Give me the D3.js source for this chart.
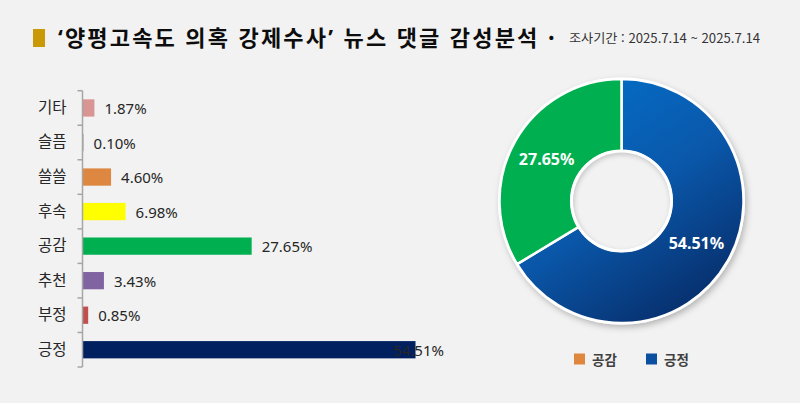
<!DOCTYPE html>
<html lang="ko">
<head>
<meta charset="utf-8">
<script src="https://cdn.jsdelivr.net/npm/d3@7"></script>
<style>
  html, body { margin: 0; padding: 0; background: #F2F2F2; }
  svg { display: block; }
</style>
</head>
<body>
<svg id="chart" width="800" height="403"></svg>
<script>
// Comment sentiment shares (%)
const categories = ["기타", "슬픔", "쓸쓸", "후속", "공감", "추천", "부정", "긍정"];
const shares = [1.87, 0.10, 4.60, 6.98, 27.65, 3.43, 0.85, 54.51];
const barColors = ["#D99594", "#A5A5A5", "#DE8741", "#FFFF00", "#00B050", "#8064A2", "#C0504D", "#002060"];

// Donut: the two leading sentiments, drawn clockwise from 12 o'clock
const donutCategories = ["긍정", "공감"];
const legendItems = ["공감", "긍정"];
const legendColors = ["#E0873E", "#0B4FA0"];

// title pieces: quote marks are set in a Latin face so they stay narrow
const titleParts = ["‘", "양평고속도 의혹 강제수사", "’", " 뉴스 댓글 감성분석 ·"];
const periodText = "조사기간 : 2025.7.14 ~ 2025.7.14";

const svg = d3.select("#chart");
const KR = "'Noto Sans CJK KR', 'Noto Sans', sans-serif";
const NUM = "'Noto Sans', 'Noto Sans CJK KR', sans-serif";

svg.append("rect").attr("width", 800).attr("height", 403).attr("fill", "#F2F2F2");

// ---- Title ----
svg.append("rect").attr("x", 33).attr("y", 29).attr("width", 12).attr("height", 18).attr("fill", "#C99A06");
const title = svg.append("text")
  .attr("x", 58).attr("y", 36)
  .attr("dominant-baseline", "central")
  .attr("font-family", KR).attr("font-weight", 700).attr("font-size", 22)
  .attr("fill", "#0D0D0D")
  .attr("textLength", 497).attr("lengthAdjust", "spacing");
titleParts.forEach((t, i) => {
  title.append("tspan")
    .attr("font-family", i % 2 === 0 ? NUM : KR)
    .text(t);
});
svg.append("text")
  .attr("x", 569).attr("y", 37)
  .attr("dominant-baseline", "central")
  .attr("font-family", KR).attr("font-size", 12.5)
  .attr("fill", "#333")
  .attr("textLength", 191).attr("lengthAdjust", "spacingAndGlyphs")
  .text(periodText);

// ---- Horizontal bar chart ----
const y = d3.scaleBand().domain(categories).range([90.7, 367]).paddingInner(0.5).paddingOuter(0.25);
const x = d3.scaleLinear().domain([0, 60]).range([83, 449]);
const plotRight = 444;

const bars = svg.append("g");
bars.selectAll("rect")
  .data(categories)
  .join("rect")
  .attr("x", x(0))
  .attr("y", d => y(d))
  .attr("width", (d, i) => x(shares[i]) - x(0))
  .attr("height", y.bandwidth())
  .attr("fill", (d, i) => barColors[i]);

const labels = bars.selectAll("text.val")
  .data(categories)
  .join("text")
  .attr("class", "val")
  .attr("y", d => y(d) + y.bandwidth() / 2)
  .attr("dominant-baseline", "central")
  .attr("font-family", NUM).attr("font-size", 15)
  .attr("fill", "#262626")
  .text((d, i) => shares[i].toFixed(2) + "%");
labels.each(function (d, i) {
  const w = this.getComputedTextLength();
  let lx = x(shares[i]) + 10;
  if (lx + w > plotRight) lx = plotRight - w;
  d3.select(this).attr("x", lx);
});

// category axis with boundary ticks
const axis = svg.append("g").attr("transform", `translate(${x(0) - 0.5},0)`);
axis.call(d3.axisLeft(y).tickSize(0).tickPadding(16))
  .call(g => g.select(".domain").remove())
  .call(g => g.selectAll("text")
    .attr("font-family", KR).attr("font-size", 15.5).attr("fill", "#262626"));
const boundaries = d3.range(categories.length + 1).map(i => 90.7 + i * (367 - 90.7) / categories.length);
axis.append("line").attr("x1", 0).attr("x2", 0).attr("y1", boundaries[0]).attr("y2", boundaries[boundaries.length - 1])
  .attr("stroke", "#A6A6A6").attr("stroke-width", 1.5);
axis.selectAll("line.tk").data(boundaries).join("line").attr("class", "tk")
  .attr("x1", -5).attr("x2", 0).attr("y1", d => d).attr("y2", d => d)
  .attr("stroke", "#A6A6A6").attr("stroke-width", 1.5);

// ---- Donut ----
const cx = 621.5, cy = 201, rOuter = 122, rInner = 50;
const defs = svg.append("defs");
// gradient in the donut group's local (centre-origin) coordinates
const blueGrad = defs.append("linearGradient").attr("id", "blueGrad")
  .attr("gradientUnits", "userSpaceOnUse")
  .attr("x1", -40).attr("y1", -110).attr("x2", 100).attr("y2", 100);
blueGrad.append("stop").attr("offset", 0).attr("stop-color", "#046CC4");
blueGrad.append("stop").attr("offset", 0.45).attr("stop-color", "#0A58AB");
blueGrad.append("stop").attr("offset", 1).attr("stop-color", "#072C68");

const shadow = defs.append("filter").attr("id", "shadow").attr("x", "-20%").attr("y", "-20%").attr("width", "140%").attr("height", "140%");
shadow.append("feDropShadow").attr("dx", 2).attr("dy", 3).attr("stdDeviation", 3)
  .attr("flood-color", "#000").attr("flood-opacity", 0.25);
const blur = defs.append("filter").attr("id", "holeBlur");
blur.append("feGaussianBlur").attr("stdDeviation", 2.5);
defs.append("clipPath").attr("id", "holeClip")
  .append("circle").attr("cx", cx).attr("cy", cy).attr("r", rInner - 1.5);

const donutValues = donutCategories.map(c => shares[categories.indexOf(c)]);
const donutFills = ["url(#blueGrad)", "#00B050"];
const pie = d3.pie().sort(null).value(d => d)(donutValues);
const arc = d3.arc().innerRadius(rInner).outerRadius(rOuter);
const labelArc = d3.arc().innerRadius(86).outerRadius(86);

const donut = svg.append("g").attr("transform", `translate(${cx},${cy})`);
donut.append("circle").attr("r", rOuter + 1.5).attr("fill", "#fff").attr("filter", "url(#shadow)");
donut.selectAll("path")
  .data(pie)
  .join("path")
  .attr("d", arc)
  .attr("fill", (d, i) => donutFills[i])
  .attr("stroke", "#fff").attr("stroke-width", 2.5).attr("stroke-linejoin", "round");
donut.append("circle").attr("r", rInner).attr("fill", "none").attr("stroke", "#fff").attr("stroke-width", 3);

// hollow centre with soft inner shading
const hole = svg.append("g").attr("clip-path", "url(#holeClip)");
hole.append("circle").attr("cx", cx).attr("cy", cy).attr("r", rInner - 1.5).attr("fill", "#F2F2F2");
hole.append("circle").attr("cx", cx + 1).attr("cy", cy + 2).attr("r", rInner + 1)
  .attr("fill", "none").attr("stroke", "#9a9a9a").attr("stroke-width", 5).attr("opacity", 0.55)
  .attr("filter", "url(#holeBlur)");

donut.selectAll("text")
  .data(pie)
  .join("text")
  .attr("transform", d => `translate(${labelArc.centroid(d)})`)
  .attr("text-anchor", "middle").attr("dominant-baseline", "central")
  .attr("font-family", NUM).attr("font-weight", 700).attr("font-size", 16)
  .attr("fill", "#fff")
  .text(d => d.value.toFixed(2) + "%");

// legend
const legendX = [574, 646];
const legend = svg.append("g");
legendItems.forEach((name, i) => {
  legend.append("rect").attr("x", legendX[i]).attr("y", 353.5).attr("width", 11).attr("height", 11).attr("fill", legendColors[i]);
  legend.append("text").attr("x", legendX[i] + 18).attr("y", 359)
    .attr("dominant-baseline", "central")
    .attr("font-family", KR).attr("font-weight", 700).attr("font-size", 13.5)
    .attr("fill", "#404040").text(name);
});
</script>
</body>
</html>
